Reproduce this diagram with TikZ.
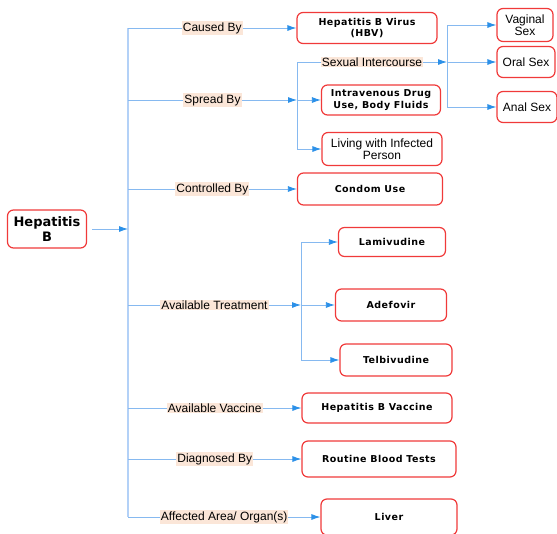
\documentclass[tikz,border=0pt]{standalone}
\usepackage{fontspec}
\setmainfont{Liberation Sans}
\newfontfamily\boldbox[LetterSpace=5]{DejaVu Sans}
\newfontfamily\hubfont{DejaVu Sans}
\usepackage{tikz}
\usetikzlibrary{arrows.meta}

\definecolor{boxred}{HTML}{F03A3A}
\definecolor{trunkblue}{HTML}{B3D1F7}
\definecolor{lineblue}{HTML}{86B9F0}
\definecolor{tipblue}{HTML}{2B90E8}
\definecolor{peach}{HTML}{FBE6D8}

\tikzset{
	card/.style={draw=boxred, line width=1.2pt, rounded corners=6pt, fill=white, align=center, inner sep=0pt,
		font=\boldbox\bfseries\fontsize{9.5}{11.5}\selectfont},
	plaincard/.style={card, font=\fontsize{12}{12.5}\selectfont},
	hub/.style={card, font=\hubfont\bfseries\fontsize{13}{15}\selectfont},
	tag/.style={fill=peach, inner sep=1pt, font=\fontsize{12}{13}\selectfont},
	trunk/.style={draw=trunkblue, line width=1.8pt},
	split/.style={draw=lineblue, line width=0.8pt},
	link/.style={draw=lineblue, line width=0.8pt, -{Latex[length=9pt, width=6pt, color=tipblue]}}
}

\begin{document}
\begin{tikzpicture}[x=1pt, y=-1pt]
		\useasboundingbox (0,0) rectangle (557,533);

		\draw (47, 229) node[hub, minimum width=79, minimum height=38] (hepb) {Hepatitis\\B};

		\draw (367, 28)  node[card, minimum width=140, minimum height=31] (hbv) {Hepatitis B Virus\\(HBV)};
		\draw (525, 25)  node[plaincard, minimum width=56, minimum height=33] (vag) {Vaginal\\Sex};
		\draw (526, 62)  node[plaincard, minimum width=58, minimum height=31] (oral) {Oral Sex};
		\draw (527, 107) node[plaincard, minimum width=60, minimum height=31] (anal) {Anal Sex};
		\draw (381, 100) node[card, minimum width=119, minimum height=30] (drug) {Intravenous Drug\\Use, Body Fluids};
		\draw (382, 149) node[plaincard, minimum width=120, minimum height=33] (living) {Living with Infected\\Person};
		\draw (370, 189) node[card, minimum width=145, minimum height=32] (condom) {Condom Use};
		\draw (392, 242) node[card, minimum width=107, minimum height=29] (lami) {Lamivudine};
		\draw (391, 305) node[card, minimum width=111, minimum height=32] (adef) {Adefovir};
		\draw (396, 360) node[card, minimum width=112, minimum height=32] (telb) {Telbivudine};
		\draw (377, 408) node[card, minimum width=150, minimum height=30] (vacc) {Hepatitis B Vaccine};
		\draw (379, 459) node[card, minimum width=154, minimum height=36] (blood) {Routine Blood Tests};
		\draw (389, 517) node[card, minimum width=136, minimum height=36] (liver) {Liver};

		\coordinate (tt) at (128, 28);
		\coordinate (tb) at (128, 517);
		\coordinate (jr) at (128, 229);
		\coordinate (j1) at (128, 28);
		\coordinate (j2) at (128, 100);
		\coordinate (j3) at (128, 189);
		\coordinate (j4) at (128, 305);
		\coordinate (j5) at (128, 408);
		\coordinate (j6) at (128, 459);
		\coordinate (j7) at (128, 517);

		\coordinate (spt) at (297, 62);
		\coordinate (spm) at (297, 100);
		\coordinate (spb) at (297, 149);
		\coordinate (sxt) at (447, 25);
		\coordinate (sxm) at (447, 62);
		\coordinate (sxb) at (447, 107);
		\coordinate (trt) at (301, 242);
		\coordinate (trm) at (301, 305);
		\coordinate (trb) at (301, 360);

		\draw[trunk] (tt) -- (tb);
		\draw[link, shorten <=5pt] (hepb) -- (jr);

		\draw[link] (j1) -- node[tag] {Caused By} (hbv);
		\draw[link] (j2) -- node[tag] {Spread By} (spm);
		\draw[link] (j3) -- node[tag] {Controlled By} (condom);
		\draw[link] (j4) -- node[tag] {Available Treatment} (trm);
		\draw[link] (j5) -- node[tag] {Available Vaccine} (vacc);
		\draw[link] (j6) -- node[tag] {Diagnosed By} (blood);
		\draw[link] (j7) -- node[tag] {Affected Area/ Organ(s)} (liver);

		\draw[split] (spt) -- (spb);
		\draw[link] (spt) -- node[tag] {Sexual Intercourse} (sxm);
		\draw[link] (spm) -- (drug);
		\draw[link] (spb) -- (living);

		\draw[split] (sxt) -- (sxb);
		\draw[link] (sxt) -- (vag);
		\draw[link] (sxm) -- (oral);
		\draw[link] (sxb) -- (anal);

		\draw[split] (trt) -- (trb);
		\draw[link] (trt) -- (lami);
		\draw[link] (trm) -- (adef);
		\draw[link] (trb) -- (telb);
	\end{tikzpicture}
\end{document}
